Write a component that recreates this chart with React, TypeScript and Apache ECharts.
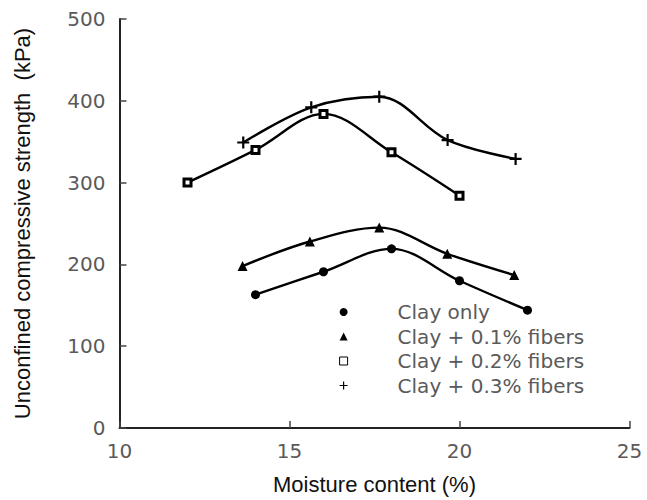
import React, { useEffect, useRef } from "react";
import * as echarts from "echarts";

const seriesNames = ["Clay only", "Clay + 0.1% fibers", "Clay + 0.2% fibers", "Clay + 0.3% fibers"];

const moistureClayOnly = [14, 16, 18, 20, 22];
const strengthClayOnly = [163, 191, 219, 180, 144];

const moistureFiber01 = [13.62, 15.6, 17.64, 19.64, 21.61];
const strengthFiber01 = [198, 228, 245, 213, 187];

const moistureFiber02 = [12, 14, 16, 18, 20];
const strengthFiber02 = [300, 340, 384, 337, 284];

const moistureFiber03 = [13.64, 15.64, 17.64, 19.65, 21.65];
const strengthFiber03 = [349, 392, 405, 352, 329];

const xTicks = { min: 10, max: 25, interval: 5 };
const yTicks = { min: 0, max: 500, interval: 100 };

const PLUS = "path://M5,0L5,10M0,5L10,5";

function pairs(xs: number[], ys: number[]) {
  return xs.map((x, i) => [x, ys[i]]);
}

export default function App() {
  const ref = useRef<HTMLDivElement>(null);
  useEffect(() => {
    if (!ref.current) return;
    const chart = echarts.init(ref.current, null, { renderer: "svg" });
    const tickFont = { fontFamily: "DejaVu Sans", fontSize: 20, color: "#5a5a5a" };
    const titleFont = { fontFamily: "Liberation Sans", fontSize: 22, color: "#111" };
    const lineStyle = { color: "#000", width: 2.4 };
    const smooth = 0.35;
    chart.setOption({
      animation: false,
      backgroundColor: "#fff",
      grid: { left: 119.5, top: 19, right: 17.5, bottom: 71.5 },
      xAxis: {
        type: "value",
        min: xTicks.min,
        max: xTicks.max,
        interval: xTicks.interval,
        name: "Moisture content (%)",
        nameLocation: "middle",
        nameGap: 45,
        nameTextStyle: titleFont,
        axisLine: { show: true, lineStyle: { color: "#222", width: 2 } },
        axisTick: { show: true, inside: true, length: 7, lineStyle: { color: "#444", width: 1.5 } },
        axisLabel: { ...tickFont, margin: 13 },
        splitLine: { show: false },
      },
      yAxis: {
        type: "value",
        min: yTicks.min,
        max: yTicks.max,
        interval: yTicks.interval,
        name: "Unconfined compressive strength  (kPa)",
        nameLocation: "middle",
        nameGap: 86,
        nameTextStyle: titleFont,
        axisLine: { show: true, lineStyle: { color: "#222", width: 2 } },
        axisTick: { show: true, inside: true, length: 7, lineStyle: { color: "#444", width: 1.5 } },
        axisLabel: { ...tickFont, margin: 14 },
        splitLine: { show: false },
      },
      legend: {
        orient: "vertical",
        left: 339,
        top: 302,
        padding: 0,
        itemWidth: 8,
        itemHeight: 8,
        itemGap: 4.5,
        textStyle: { ...tickFont, lineHeight: 20, padding: [0, 0, 0, 45] },
        data: [
          { name: seriesNames[0], icon: "circle", itemStyle: { color: "#000", borderWidth: 0 } },
          { name: seriesNames[1], icon: "triangle", itemStyle: { color: "#000", borderWidth: 0 } },
          { name: seriesNames[2], icon: "rect", itemStyle: { color: "#fff", borderColor: "#000", borderWidth: 1 } },
          { name: seriesNames[3], icon: PLUS, itemStyle: { color: "#000", borderColor: "#000", borderWidth: 1.2 } },
        ],
      },
      series: [
        {
          name: seriesNames[0],
          type: "line",
          smooth,
          data: pairs(moistureClayOnly, strengthClayOnly),
          symbol: "circle",
          symbolSize: 9,
          itemStyle: { color: "#000" },
          lineStyle,
        },
        {
          name: seriesNames[1],
          type: "line",
          smooth,
          data: pairs(moistureFiber01, strengthFiber01),
          symbol: "triangle",
          symbolSize: 10,
          itemStyle: { color: "#000" },
          lineStyle,
        },
        {
          name: seriesNames[2],
          type: "line",
          smooth,
          data: pairs(moistureFiber02, strengthFiber02),
          symbol: "rect",
          symbolSize: 7,
          itemStyle: { color: "#fff", borderColor: "#000", borderWidth: 3 },
          lineStyle,
        },
        {
          name: seriesNames[3],
          type: "line",
          smooth,
          data: pairs(moistureFiber03, strengthFiber03),
          symbol: PLUS,
          symbolSize: 12,
          itemStyle: { color: "#000", borderColor: "#000", borderWidth: 2.2 },
          lineStyle,
        },
      ],
    });
    return () => chart.dispose();
  }, []);
  return (
    <div
      ref={ref}
      style={{ position: "fixed", left: 0, top: 0, width: 647, height: 500, background: "#fff" }}
    />
  );
}
